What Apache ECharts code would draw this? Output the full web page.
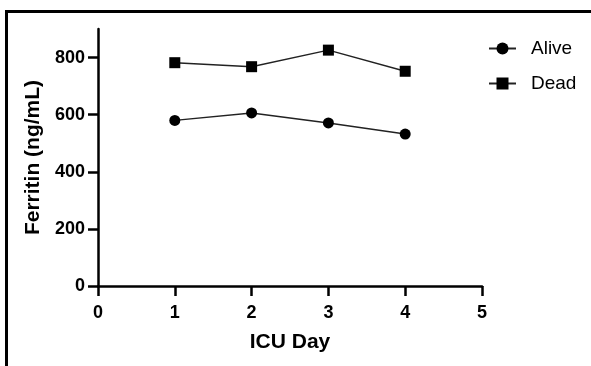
<!DOCTYPE html>
<html>
<head>
<meta charset="utf-8">
<script src="https://cdn.jsdelivr.net/npm/echarts@6/dist/echarts.min.js"></script>
<style>
  html, body { margin: 0; padding: 0; background: #fff; }
  #frame { position: absolute; left: 5px; top: 10px; width: 600px; height: 400px;
           border-top: 3px solid #000; border-left: 3px solid #000; }
  #chart { position: absolute; left: 0; top: 0; width: 591px; height: 366px; }
</style>
</head>
<body>
<div id="frame"></div>
<div id="chart"></div>
<script>
const days = [1, 2, 3, 4]
const alive = [580, 606, 571, 532]
const dead = [782, 768, 826, 752]
const yTicks = [0, 200, 400, 600, 800]

const font = 'Liberation Sans, Arial, Helvetica, sans-serif'

const chart = echarts.init(document.getElementById('chart'))

function pairs(ys) {
  return days.map((d, i) => [d, ys[i]])
}

const axisCommon = {
  axisLine: { onZero: false, lineStyle: { color: '#000', width: 2.5 } },
  axisTick: { inside: false, length: 10, lineStyle: { color: '#000', width: 2.5 } },
  splitLine: { show: false },
  nameLocation: 'middle',
  nameTextStyle: { color: '#000', fontSize: 21, fontWeight: 'bold', fontFamily: font }
}

chart.setOption({
  animation: false,
  backgroundColor: 'transparent',
  grid: { left: 98, right: 109, top: 29, bottom: 80 },
  legend: {
    left: 483,
    top: 34,
    orient: 'vertical',
    itemWidth: 27,
    itemHeight: 15,
    itemGap: 16,
    data: ['Alive', 'Dead'],
    textStyle: { color: '#000', fontSize: 19, fontFamily: font, padding: [0, 0, 0, 10] }
  },
  xAxis: Object.assign({}, axisCommon, {
    type: 'value',
    min: 0,
    max: 5,
    interval: 1,
    name: 'ICU Day',
    nameGap: 46,
    axisLabel: { color: '#000', fontSize: 18, fontWeight: 'bold', fontFamily: font, margin: 18 }
  }),
  yAxis: Object.assign({}, axisCommon, {
    type: 'value',
    min: 0,
    max: 900,
    name: 'Ferritin (ng/mL)',
    nameGap: 54,
    axisTick: { length: 10, customValues: yTicks, lineStyle: { color: '#000', width: 2.5 } },
    axisLabel: { color: '#000', fontSize: 18, fontWeight: 'bold', fontFamily: font, margin: 13, customValues: yTicks }
  }),
  series: [
    {
      name: 'Alive',
      type: 'line',
      data: pairs(alive),
      symbol: 'circle',
      symbolSize: 11,
      lineStyle: { color: '#222', width: 1.5 },
      itemStyle: { color: '#000' }
    },
    {
      name: 'Dead',
      type: 'line',
      data: pairs(dead),
      symbol: 'rect',
      symbolSize: 11,
      lineStyle: { color: '#222', width: 1.5 },
      itemStyle: { color: '#000' }
    }
  ]
})
</script>
</body>
</html>
